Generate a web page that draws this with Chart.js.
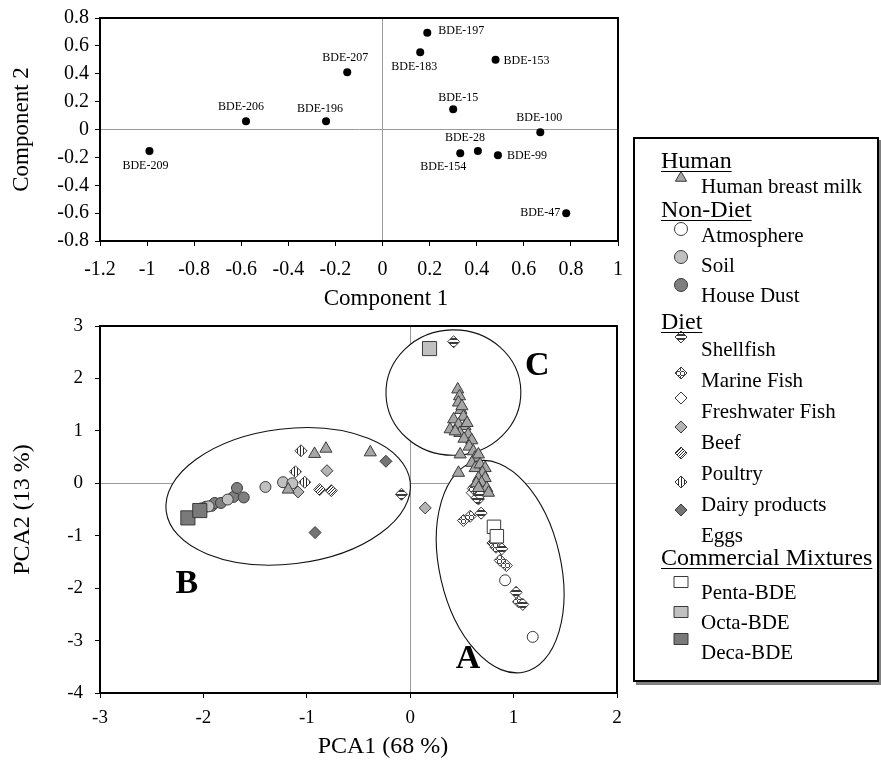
<!DOCTYPE html>
<html><head><meta charset="utf-8">
<script src="https://cdn.jsdelivr.net/npm/chart.js@4/dist/chart.umd.min.js"></script>
<style>
html,body{margin:0;padding:0;background:#fff;width:881px;height:764px;overflow:hidden;font-family:"Liberation Serif","Times New Roman",serif;}
canvas{position:absolute;}
.t{position:absolute;white-space:nowrap;color:#000;line-height:1;}
.u{text-decoration:underline;text-underline-offset:3px;text-decoration-thickness:1px;}
#legendBox{position:absolute;left:633px;top:137px;width:246px;height:545px;box-sizing:border-box;border:2px solid #000;box-shadow:3px 3px 0 #808080;background:#fff;}
</style></head><body>
<canvas id="c1" width="630" height="310" style="left:0;top:0"></canvas>
<canvas id="c2" width="630" height="454" style="left:0;top:310px"></canvas>
<div id="legendBox"></div>
<canvas id="lg" width="60" height="560" style="left:651px;top:130px"></canvas>
<div id="texts"></div>
<script>
// ================= DATA =================
// Top panel: component loadings
const loadingNames = ['BDE-15','BDE-28','BDE-47','BDE-99','BDE-100','BDE-153','BDE-154','BDE-183','BDE-196','BDE-197','BDE-206','BDE-207','BDE-209'];
const loadingC1    = [0.30, 0.405, 0.78, 0.49, 0.67, 0.48, 0.33, 0.16, -0.24, 0.19, -0.58, -0.15, -0.99];
const loadingC2    = [0.145, -0.155, -0.60, -0.185, -0.02, 0.50, -0.17, 0.555, 0.06, 0.695, 0.06, 0.41, -0.155];
const topXTicks = [-1.2,-1,-0.8,-0.6,-0.4,-0.2,0,0.2,0.4,0.6,0.8,1];
const topYTicks = [-0.8,-0.6,-0.4,-0.2,0,0.2,0.4,0.6,0.8];

// Bottom panel: PCA scores
const humanMilkX = [-0.925,-0.815,-0.386,-1.18, 0.46,0.477,0.467,0.49,0.50,0.42,0.515,0.386,0.467,0.53,0.55,0.48,0.435,0.56,0.52,0.596,0.57,0.483,0.61,0.628,0.66,0.596,0.628,0.676,0.725,0.467,0.70,0.66,0.725,0.69,0.64,0.74,0.66,0.757];
const humanMilkY = [0.56,0.66,0.59,-0.12, 1.79,1.66,1.54,1.40,1.47,1.22,1.27,1.03,1.12,1.09,1.15,0.96,0.99,0.93,0.85,0.82,0.70,0.55,0.61,0.49,0.55,0.39,0.29,0.36,0.29,0.20,0.20,0.10,0.10,0.01,0.00,-0.09,-0.09,-0.18];
const atmosphereX = [0.918, 1.185];
const atmosphereY = [-1.85, -2.93];
const soilX = [-1.40,-1.23,-1.14,-1.765,-1.95];
const soilY = [-0.07,0.02,0.00,-0.31,-0.44];
const houseDustX = [-2.02,-1.98,-1.92,-1.89,-1.83,-1.71,-1.675,-1.61];
const houseDustY = [-0.48,-0.45,-0.43,-0.375,-0.375,-0.26,-0.09,-0.27];
const shellfishX = [0.42,-0.084,0.686,0.886,1.024,1.089,0.66,0.644,0.676];
const shellfishY = [2.70,-0.21,-0.57,-1.25,-2.08,-2.31,-0.30,-0.28,-0.22];
const marineFishX = [0.515,0.58,0.80,0.83,0.87,0.93,1.047,0.628,0.644,0.61];
const marineFishY = [-0.71,-0.63,-1.14,-1.22,-1.47,-1.57,-2.26,-0.06,-0.15,-0.10];
const freshwaterFishX = [0.60];
const freshwaterFishY = [-0.18];
const beefX = [-0.805,-1.085,0.145];
const beefY = [0.24,-0.165,-0.47];
const poultryX = [-0.876,-0.763];
const poultryY = [-0.12,-0.14];
const dairyX = [-1.056,-1.11,-1.02];
const dairyY = [0.62,0.22,0.02];
const eggsX = [-0.235,-0.92];
const eggsY = [0.42,-0.94];
const pentaX = [0.81,0.838];
const pentaY = [-0.83,-1.01];
const octaX = [0.187];
const octaY = [2.57];
const decaX = [-2.15,-2.035];
const decaY = [-0.66,-0.52];
const botXTicks = [-3,-2,-1,0,1,2];
const botYTicks = [-4,-3,-2,-1,0,1,2,3];

// Cluster annotations (data coordinates: centre, end of major axis, minor/major ratio)
const clusterNames = ['B','C','A'];
const clusterCX = [-1.18, 0.418, 0.87];
const clusterCY = [-0.25, 1.73, -1.59];
const clusterEX = [0.0, 1.07, 1.104];
const clusterEY = [0.03, 1.76, -3.60];
const clusterRatio = [0.55, 0.93, 0.56];
const clusterLabelX = [-2.16, 1.23, 0.56];
const clusterLabelY = [-1.88, 2.27, -3.31];

const legendGroups = [
  {title:'Human', items:['Human breast milk']},
  {title:'Non-Diet', items:['Atmosphere','Soil','House Dust']},
  {title:'Diet', items:['Shellfish','Marine Fish','Freshwater Fish','Beef','Poultry','Dairy products','Eggs']},
  {title:'Commercial Mixtures', items:['Penta-BDE','Octa-BDE','Deca-BDE']}
];

// ================= STYLE =================
const FONT = '"Liberation Serif","Times New Roman",serif';
Chart.defaults.font.family = FONT;
Chart.defaults.color = '#000';

function pattern(type){
  const c = document.createElement('canvas');
  let g;
  if (type==='h'){ c.width=4;c.height=4;g=c.getContext('2d');g.fillStyle='#fff';g.fillRect(0,0,4,4);g.fillStyle='#3a3a3a';g.fillRect(0,0,4,2); }
  else if (type==='v'){ c.width=3;c.height=3;g=c.getContext('2d');g.fillStyle='#fff';g.fillRect(0,0,3,3);g.fillStyle='#2a2a2a';g.fillRect(0,0,1,3); }
  else if (type==='diag'){ c.width=3;c.height=3;g=c.getContext('2d');g.fillStyle='#fff';g.fillRect(0,0,3,3);g.fillStyle='#2a2a2a';for(let i=0;i<3;i++)g.fillRect(i,2-i,1,1); }
  else { c.width=4;c.height=4;g=c.getContext('2d');g.fillStyle='#fff';g.fillRect(0,0,4,4);g.fillStyle='#444';g.fillRect(1,0,1,4);g.fillRect(0,1,4,1);g.fillStyle='#fff';g.fillRect(1,1,1,1); }
  return document.createElement('canvas').getContext('2d').createPattern(c,'repeat');
}
const PAT = {h:pattern('h'), v:pattern('v'), diag:pattern('diag'), dots:pattern('dots')};

const SERIES = [
  {name:'Human breast milk', x:humanMilkX, y:humanMilkY, shape:'triangle', fill:'#a6a6a6', r:7},
  {name:'Penta-BDE', x:pentaX, y:pentaY, shape:'rect', fill:'#ffffff', r:9.5},
  {name:'Octa-BDE', x:octaX, y:octaY, shape:'rect', fill:'#c0c0c0', r:10},
  {name:'Deca-BDE', x:decaX, y:decaY, shape:'rect', fill:'#7a7a7a', r:10},
  {name:'Atmosphere', x:atmosphereX, y:atmosphereY, shape:'circle', fill:'#ffffff', r:5.5},
  {name:'Soil', x:soilX, y:soilY, shape:'circle', fill:'#c0c0c0', r:5.5},
  {name:'House Dust', x:houseDustX, y:houseDustY, shape:'circle', fill:'#7f7f7f', r:5.5},
  {name:'Shellfish', x:shellfishX, y:shellfishY, shape:'rectRot', fill:PAT.h, r:6},
  {name:'Marine Fish', x:marineFishX, y:marineFishY, shape:'rectRot', fill:PAT.dots, r:6},
  {name:'Freshwater Fish', x:freshwaterFishX, y:freshwaterFishY, shape:'rectRot', fill:'#ffffff', r:6},
  {name:'Beef', x:beefX, y:beefY, shape:'rectRot', fill:'#b4b4b4', r:6},
  {name:'Poultry', x:poultryX, y:poultryY, shape:'rectRot', fill:PAT.diag, r:6},
  {name:'Dairy products', x:dairyX, y:dairyY, shape:'rectRot', fill:PAT.v, r:6},
  {name:'Eggs', x:eggsX, y:eggsY, shape:'rectRot', fill:'#747474', r:6},
];
const EDGE = '#3a3a3a';

// label placement for loading plot: [align, dx, dy] in px
const LABEL_PLACEMENT = {
  'BDE-209':['center',-4,15], 'BDE-206':['center',-5,-14], 'BDE-196':['center',-6,-12],
  'BDE-207':['center',-2,-15], 'BDE-197':['left',11,-2], 'BDE-183':['center',-6,15],
  'BDE-153':['left',8,1], 'BDE-15':['center',5,-11], 'BDE-100':['center',-1,-14],
  'BDE-28':['center',-13,-13], 'BDE-154':['center',-17,14], 'BDE-99':['left',9,1],
  'BDE-47':['right',-6,0]
};

const fmt = v => String(Number(v.toFixed(1)));
const zeroGrid = c => (c.tick && Math.abs(c.tick.value) < 1e-9) ? '#9a9a9a' : 'rgba(0,0,0,0)';

function axis(ticksArr, opts){
  return {
    type:'linear', min:ticksArr[0], max:ticksArr[ticksArr.length-1],
    afterBuildTicks: s => { s.ticks = ticksArr.map(v => ({value:v})); },
    afterFit: s => {
      if (opts.w!==undefined) s.width = opts.w;
      if (opts.h!==undefined) s.height = opts.h;
      s.paddingLeft = 0; s.paddingRight = 0; s.paddingTop = 0; s.paddingBottom = 0;
    },
    grid:{color:zeroGrid, lineWidth:1, drawTicks:true, tickLength:5, tickColor:'#000'},
    border:{display:true, color:'#000', width:2},
    ticks:{font:{size:opts.fs, family:FONT}, color:'#000', padding:opts.pad, callback:fmt, maxRotation:0, autoSkip:false},
    title: opts.title ? {display:true, text:opts.title, font:{size:opts.tfs, family:FONT}, color:'#000', padding:{top:opts.tpad, bottom:0}} : {display:false}
  };
}

const framePlugin = {
  id:'frame',
  afterDatasetsDraw(chart){
    const {ctx, chartArea:a} = chart;
    ctx.save(); ctx.strokeStyle='#000'; ctx.lineWidth=2;
    ctx.strokeRect(a.left, a.top, a.right-a.left, a.bottom-a.top);
    ctx.restore();
  }
};

const pointLabelPlugin = {
  id:'pointLabels',
  afterDatasetsDraw(chart){
    const meta = chart.getDatasetMeta(0), ctx = chart.ctx;
    ctx.save();
    ctx.font = '12px ' + FONT; ctx.fillStyle = '#000'; ctx.textBaseline = 'middle';
    meta.data.forEach((pt,i) => {
      const name = loadingNames[i];
      const [al,dx,dy] = LABEL_PLACEMENT[name];
      ctx.textAlign = al;
      ctx.fillText(name, pt.x+dx, pt.y+dy);
    });
    ctx.restore();
  }
};

const clusterPlugin = {
  id:'clusters',
  beforeDatasetsDraw(chart){
    const {ctx, chartArea:a, scales:{x, y}} = chart;
    const shapes = clusterNames.map((n,i) => {
      const cx = x.getPixelForValue(clusterCX[i]), cy = y.getPixelForValue(clusterCY[i]);
      const ex = x.getPixelForValue(clusterEX[i]), ey = y.getPixelForValue(clusterEY[i]);
      const ra = Math.hypot(ex-cx, ey-cy);
      return {cx, cy, ra, rb: ra*clusterRatio[i], ang: Math.atan2(ey-cy, ex-cx)};
    });
    ctx.save();
    ctx.beginPath(); ctx.rect(a.left+1, a.top+1, a.right-a.left-2, a.bottom-a.top-2); ctx.clip();
    ctx.fillStyle = '#fff';
    shapes.forEach(s => { ctx.beginPath(); ctx.ellipse(s.cx, s.cy, s.ra, s.rb, s.ang, 0, Math.PI*2); ctx.fill(); });
    ctx.strokeStyle = '#111'; ctx.lineWidth = 1.1;
    shapes.forEach(s => { ctx.beginPath(); ctx.ellipse(s.cx, s.cy, s.ra, s.rb, s.ang, 0, Math.PI*2); ctx.stroke(); });
    ctx.restore();
  },
  afterDatasetsDraw(chart){
    const {ctx, scales:{x, y}} = chart;
    ctx.save();
    ctx.font = 'bold 34px ' + FONT; ctx.fillStyle = '#000';
    ctx.textAlign = 'center'; ctx.textBaseline = 'middle';
    clusterNames.forEach((n,i) => ctx.fillText(n, x.getPixelForValue(clusterLabelX[i]), y.getPixelForValue(clusterLabelY[i])+2));
    ctx.restore();
  }
};

// ================= TOP CHART =================
new Chart(document.getElementById('c1'), {
  type:'scatter',
  data:{datasets:[{
    label:'Loadings',
    data: loadingNames.map((n,i) => ({x:loadingC1[i], y:loadingC2[i]})),
    pointStyle:'circle', pointRadius:4, backgroundColor:'#000', borderColor:'#000', borderWidth:0
  }]},
  options:{
    responsive:false, animation:false, events:[],
    layout:{autoPadding:false, padding:{top:18, right:12, left:0, bottom:0}},
    plugins:{legend:{display:false}, tooltip:{enabled:false}},
    scales:{
      x: axis(topXTicks, {h:69, fs:20, pad:12}),
      y: axis(topYTicks, {w:100, fs:20, pad:6, title:'Component 2', tfs:23, tpad:8})
    }
  },
  plugins:[pointLabelPlugin, framePlugin]
});

// ================= BOTTOM CHART =================
new Chart(document.getElementById('c2'), {
  type:'scatter',
  data:{datasets: SERIES.map(s => ({
    label:s.name,
    data: s.x.map((v,i) => ({x:v, y:s.y[i]})),
    pointStyle:s.shape, pointRadius:s.r, backgroundColor:s.fill, borderColor:EDGE, borderWidth:1
  }))},
  options:{
    responsive:false, animation:false, events:[],
    layout:{autoPadding:false, padding:{top:16, right:13, left:0, bottom:0}},
    plugins:{legend:{display:false}, tooltip:{enabled:false}},
    scales:{
      x: axis(botXTicks, {h:71, fs:19, pad:9}),
      y: axis(botYTicks, {w:100, fs:19, pad:12, title:'PCA2 (13 %)', tfs:24, tpad:8})
    }
  },
  plugins:[clusterPlugin, framePlugin]
});

// ================= TEXTS (x-axis titles, legend) =================
const texts = document.getElementById('texts');
function addText(str, left, cy, fs, cls, center){
  const d = document.createElement('div');
  d.className = 't' + (cls ? ' '+cls : '');
  d.textContent = str;
  d.style.fontSize = fs + 'px';
  d.style.left = left + 'px';
  d.style.top = (cy - fs/2) + 'px';
  if (center) d.style.transform = 'translateX(-50%)';
  texts.appendChild(d);
}
addText('Component 1', 386, 297, 23, '', true);
addText('PCA1 (68 %)', 383, 745, 24, '', true);

// legend layout (page coordinates)
const LG_HEAD_Y = [160, 209, 321, 557];
const LG_ITEM_Y = [[186],[235,265,295],[349,380,411,442,473,504,535],[592,622,652]];
const LG_ICON_Y = [[178],[229,257,285],[337,373,398,427,453,482,510],[582,612,639]];
const LG_HEAD_X = 661, LG_ITEM_X = 701, LG_ICON_X = 681;
const lctx = document.getElementById('lg').getContext('2d');
const LG_OX = 651, LG_OY = 130;

function drawIcon(s, px, py){
  lctx.save();
  lctx.fillStyle = s.fill; lctx.strokeStyle = EDGE; lctx.lineWidth = 1;
  lctx.beginPath();
  if (s.shape==='triangle'){ const r=6.5; lctx.moveTo(px, py-r); lctx.lineTo(px+r*0.866, py+r*0.5); lctx.lineTo(px-r*0.866, py+r*0.5); lctx.closePath(); }
  else if (s.shape==='circle'){ lctx.arc(px, py, 6.5, 0, Math.PI*2); }
  else if (s.shape==='rectRot'){ const r=6; lctx.moveTo(px, py-r); lctx.lineTo(px+r, py); lctx.lineTo(px, py+r); lctx.lineTo(px-r, py); lctx.closePath(); }
  else { lctx.rect(px-7, py-5.5, 14, 11); }
  lctx.fill(); lctx.stroke();
  lctx.restore();
}

legendGroups.forEach((g,gi) => {
  addText(g.title, LG_HEAD_X, LG_HEAD_Y[gi], 24, 'u', false);
  g.items.forEach((name,ii) => {
    addText(name, LG_ITEM_X, LG_ITEM_Y[gi][ii], 21, '', false);
    const s = SERIES.find(q => q.name === name);
    drawIcon(s, LG_ICON_X - LG_OX, LG_ICON_Y[gi][ii] - LG_OY);
  });
});
</script>
</body></html>
